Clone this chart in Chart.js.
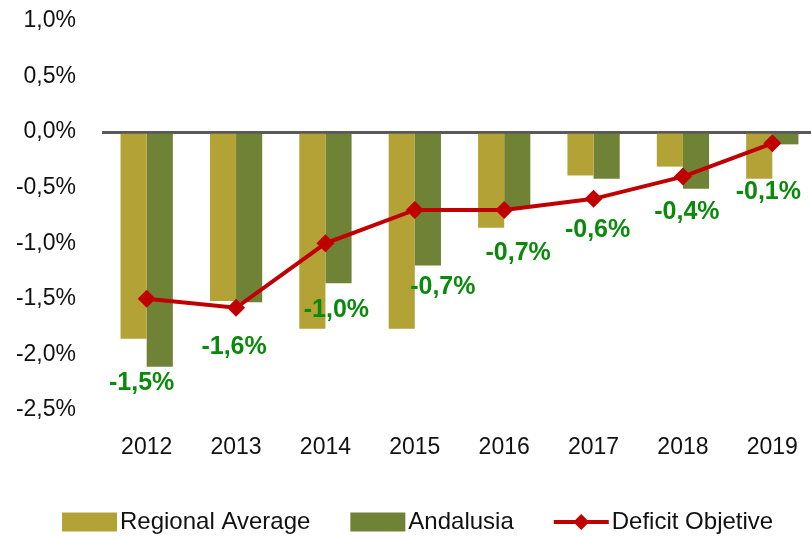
<!DOCTYPE html>
<html lang="es">
<head>
  <meta charset="UTF-8">
  <title>Deficit</title>
  <script src="https://cdn.jsdelivr.net/npm/chart.js"></script>
  <style>
    html, body {
      margin: 0;
      padding: 0;
      background: #ffffff;
      overflow: hidden;
    }
    #wrap {
      width: 811px;
      height: 536px;
      overflow: hidden;
    }
  </style>
</head>
<body>
  <div id="wrap">
    <canvas id="deficitChart" width="830" height="536"></canvas>
  </div>

  <script>
    // values (% of GDP)
    const years = ['2012', '2013', '2014', '2015', '2016', '2017', '2018', '2019'];
    const regionalAverage = [-1.86, -1.52, -1.77, -1.77, -0.86, -0.39, -0.31, -0.42];
    const andalusia = [-2.11, -1.53, -1.36, -1.20, -0.68, -0.42, -0.51, -0.11];
    const deficitObjective = [-1.5, -1.58, -1.0, -0.7, -0.7, -0.6, -0.4, -0.1];

    // where each green label sits relative to its point (px)
    const labelOffsets = [[-5, 84], [-2, 39], [11, 67], [28, 77], [14, 43], [4, 31], [4, 36], [-4, 49]];

    const FONT = "'Liberation Sans', Arial, sans-serif";
    const pct = v => v.toFixed(1).replace('.', ',') + '%';

    const valueLabels = {
      id: 'valueLabels',
      afterDatasetsDraw(chart) {
        const meta = chart.getDatasetMeta(2);
        const ctx = chart.ctx;
        ctx.save();
        ctx.font = 'bold 25px ' + FONT;
        ctx.fillStyle = '#0a8a0a';
        ctx.textAlign = 'center';
        ctx.textBaseline = 'middle';
        meta.data.forEach((pt, i) => {
          const [dx, dy] = labelOffsets[i];
          ctx.fillText(pct(deficitObjective[i]), pt.x + dx, pt.y + dy);
        });
        ctx.restore();
      }
    };

    const bottomLegend = {
      id: 'bottomLegend',
      afterDraw(chart) {
        const ctx = chart.ctx;
        const y = 522;
        let x = 62;
        ctx.save();
        ctx.font = '24px ' + FONT;
        ctx.textBaseline = 'middle';
        ctx.textAlign = 'left';
        chart.data.datasets.forEach(ds => {
          const w = 55;
          if (ds.type === 'line') {
            ctx.strokeStyle = ds.borderColor;
            ctx.lineWidth = 4;
            ctx.beginPath();
            ctx.moveTo(x, y);
            ctx.lineTo(x + w, y);
            ctx.stroke();
            ctx.fillStyle = ds.borderColor;
            ctx.beginPath();
            ctx.moveTo(x + w / 2, y - 8);
            ctx.lineTo(x + w / 2 + 8, y);
            ctx.lineTo(x + w / 2, y + 8);
            ctx.lineTo(x + w / 2 - 8, y);
            ctx.closePath();
            ctx.fill();
          } else {
            ctx.fillStyle = ds.backgroundColor;
            ctx.fillRect(x, y - 9.5, w, 19);
          }
          x += w + 3;
          ctx.fillStyle = '#111111';
          ctx.fillText(ds.label, x, y);
          x += ctx.measureText(ds.label).width + 40;
        });
        ctx.restore();
      }
    };

    new Chart(document.getElementById('deficitChart'), {
      data: {
        labels: years,
        datasets: [
          {
            type: 'bar',
            label: 'Regional Average',
            data: regionalAverage,
            backgroundColor: '#b3a236',
            order: 2,
            categoryPercentage: 0.585,
            barPercentage: 1.0
          },
          {
            type: 'bar',
            label: 'Andalusia',
            data: andalusia,
            backgroundColor: '#708236',
            order: 2,
            categoryPercentage: 0.585,
            barPercentage: 1.0
          },
          {
            type: 'line',
            label: 'Deficit Objetive',
            data: deficitObjective,
            borderColor: '#c00000',
            backgroundColor: '#c00000',
            borderWidth: 4,
            tension: 0,
            pointStyle: 'rectRot',
            pointRadius: 9,
            pointBorderWidth: 0,
            order: 1
          }
        ]
      },
      options: {
        responsive: false,
        animation: false,
        layout: { padding: { top: 21, right: 13, bottom: 0, left: 0 } },
        plugins: {
          legend: { display: false },
          tooltip: { enabled: false }
        },
        scales: {
          x: {
            grid: { display: false },
            border: { display: false },
            ticks: {
              color: '#111111',
              font: { family: FONT, size: 23 },
              padding: 16,
              maxRotation: 0
            },
            afterFit(scale) { scale.height = 126; }
          },
          y: {
            min: -2.5,
            max: 1.0,
            border: { display: false },
            grid: {
              drawTicks: false,
              color: c => c.tick && c.tick.value === 0 ? '#595959' : 'rgba(0,0,0,0)',
              lineWidth: c => c.tick && c.tick.value === 0 ? 3 : 0
            },
            ticks: {
              stepSize: 0.5,
              color: '#111111',
              font: { family: FONT, size: 23 },
              padding: 26,
              callback: v => pct(v)
            },
            afterFit(scale) {
              scale.width = 102;
              scale.paddingTop = 0;
              scale.paddingBottom = 0;
            }
          }
        }
      },
      plugins: [valueLabels, bottomLegend]
    });
  </script>
</body>
</html>
